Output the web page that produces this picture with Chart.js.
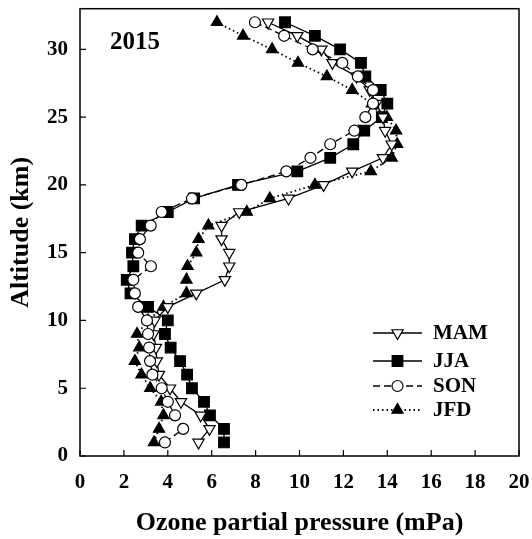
<!DOCTYPE html>
<html>
<head>
<meta charset="utf-8">
<script src="https://cdn.jsdelivr.net/npm/chart.js@4/dist/chart.umd.min.js"></script>
<style>html,body{margin:0;padding:0;background:#fff}</style>
</head>
<body>
<canvas id="chart" width="532" height="539"></canvas>
<script>
// === Data ===

const altitudes = [1, 2, 3, 4, 5, 6, 7, 8, 9, 10, 11, 12, 13, 14, 15, 16,
	17, 18, 19, 20, 21, 22, 23, 24, 25, 26, 27, 28, 29, 30, 31, 32];

const mam = [5.4, 5.9, 5.5, 4.6, 4.1, 3.6, 3.5, 3.46, 3.35, 3.4, 4.0, 5.3,
	6.6, 6.8, 6.8, 6.45, 6.45, 7.25, 9.5, 11.1, 12.4, 13.8, 14.2, 13.9,
	13.8, 13.5, 13.2, 12.6, 11.5, 11.0, 9.9, 8.57];

const jja = [6.56, 6.56, 5.92, 5.65, 5.1, 4.88, 4.56, 4.13, 3.87, 4.0, 3.1, 2.3,
	2.13, 2.43, 2.37, 2.5, 2.81, 4.0, 5.2, 7.2, 9.9, 11.4, 12.45, 12.95,
	13.75, 14.0, 13.7, 13.0, 12.8, 11.85, 10.7, 9.34];

const son = [3.87, 4.7, 4.33, 4.0, 3.72, 3.3, 3.19, 3.15, 3.1, 3.05, 2.65, 2.5,
	2.43, 3.23, 2.65, 2.73, 3.22, 3.72, 5.1, 7.35, 9.4, 10.5, 11.4, 12.5,
	13.0, 13.35, 13.35, 12.66, 11.95, 10.6, 9.3, 7.97];

const jfd = [3.37, 3.6, 3.8, 3.7, 3.2, 2.8, 2.5, 2.7, 2.6, 3.1, 3.8, 4.85,
	4.85, 4.9, 5.3, 5.4, 5.85, 7.6, 8.65, 10.7, 13.25, 14.2, 14.45, 14.4,
	13.98, 13.3, 12.4, 11.25, 9.93, 8.75, 7.43, 6.24];

const xTicks = [0, 2, 4, 6, 8, 10, 12, 14, 16, 18, 20];
const yTicks = [0, 5, 10, 15, 20, 25, 30];

const FONT = '"Liberation Serif", "Times New Roman", serif';


// === Helpers ===

function toPoints(values) {
	return altitudes.map((alt, i) => ({ x: values[i], y: alt }));
}

function makeDataset(label, values, style) {
	return Object.assign({
		label: label,
		data: toPoints(values),
		showLine: true,
		borderColor: '#000',
		borderWidth: 1.3,
		pointBorderColor: '#000',
		pointBorderWidth: 1.2
	}, style);
}


// === Plugins ===

const frameAndTicks = {
	id: 'frameAndTicks',
	afterDraw(chart) {
		const ctx = chart.ctx;
		const a = chart.chartArea;
		const xs = chart.scales.x;
		const ys = chart.scales.y;
		ctx.save();
		ctx.strokeStyle = '#000';
		ctx.lineWidth = 1.5;
		ctx.strokeRect(a.left, a.top, a.right - a.left, a.bottom - a.top);
		ctx.lineWidth = 1.2;
		ctx.beginPath();
		xTicks.forEach(v => {
			const px = xs.getPixelForValue(v);
			ctx.moveTo(px, a.bottom);
			ctx.lineTo(px, a.bottom - 6);
		});
		yTicks.forEach(v => {
			const py = ys.getPixelForValue(v);
			ctx.moveTo(a.left, py);
			ctx.lineTo(a.left + 6, py);
		});
		ctx.stroke();

		// year label
		ctx.fillStyle = '#000';
		ctx.font = 'bold 25px ' + FONT;
		ctx.textAlign = 'center';
		ctx.textBaseline = 'middle';
		ctx.fillText('2015', xs.getPixelForValue(2.5), ys.getPixelForValue(30.5));

		// legend inside the plot
		const rowY = [333, 361, 386, 410];
		const x0 = 373, x1 = 422;
		chart.data.datasets.forEach((ds, i) => {
			const y = rowY[i];
			ctx.save();
			ctx.strokeStyle = '#000';
			ctx.lineWidth = ds.borderWidth;
			ctx.setLineDash(ds.borderDash || []);
			ctx.beginPath();
			ctx.moveTo(x0, y);
			ctx.lineTo(x1, y);
			ctx.stroke();
			ctx.restore();
			ctx.save();
			ctx.fillStyle = ds.pointBackgroundColor;
			ctx.strokeStyle = '#000';
			ctx.lineWidth = 1.2;
			Chart.helpers.drawPoint(ctx, {
				pointStyle: ds.pointStyle,
				rotation: ds.pointRotation || 0,
				radius: ds.pointRadius,
				borderWidth: 1.2
			}, (x0 + x1) / 2, y);
			ctx.restore();
			ctx.fillStyle = '#000';
			ctx.font = 'bold 21px ' + FONT;
			ctx.textAlign = 'left';
			ctx.textBaseline = 'middle';
			ctx.fillText(ds.label, 433, y + 1);
		});
		ctx.restore();
	}
};


// === Chart ===

const datasets = [
	makeDataset('MAM', mam, {
		pointStyle: 'triangle', pointRotation: 180, pointRadius: 6.5,
		pointBackgroundColor: '#fff', order: 1
	}),
	makeDataset('JJA', jja, {
		pointStyle: 'rect', pointRadius: 7.5,
		pointBackgroundColor: '#000', order: 3
	}),
	makeDataset('SON', son, {
		pointStyle: 'circle', pointRadius: 5.5, borderDash: [7, 4],
		pointBackgroundColor: '#fff', order: 0
	}),
	makeDataset('JFD', jfd, {
		pointStyle: 'triangle', pointRadius: 6.5, borderDash: [1.5, 3],
		borderWidth: 1.8, pointBackgroundColor: '#000', order: 2
	})
];

new Chart(document.getElementById('chart'), {
	type: 'scatter',
	data: { datasets: datasets },
	options: {
		responsive: false,
		animation: false,
		layout: { padding: { left: 0, right: 13, top: 7, bottom: 0 } },
		plugins: { legend: { display: false }, tooltip: { enabled: false } },
		scales: {
			x: {
				type: 'linear', min: 0, max: 20,
				afterBuildTicks: s => { s.ticks = xTicks.map(v => ({ value: v })); },
				afterFit: s => { s.height = 83; s.paddingLeft = 0; s.paddingRight = 0; },
				grid: { display: false, drawTicks: false },
				border: { display: false },
				ticks: { color: '#000', padding: 14, maxRotation: 0,
					font: { family: FONT, size: 21, weight: 'bold' } },
				title: { display: true, text: 'Ozone partial pressure (mPa)', color: '#000',
					padding: { top: 0, bottom: 0 },
					font: { family: FONT, size: 26, weight: 'bold' } }
			},
			y: {
				type: 'linear', min: 0, max: 33,
				afterBuildTicks: s => { s.ticks = yTicks.map(v => ({ value: v })); },
				afterFit: s => { s.width = 80; s.paddingTop = 0; s.paddingBottom = 0; },
				grid: { display: false, drawTicks: false },
				border: { display: false },
				ticks: { color: '#000', padding: 12,
					font: { family: FONT, size: 21, weight: 'bold' } },
				title: { display: true, text: 'Altitude (km)', color: '#000',
					padding: { top: 6, bottom: 0 },
					font: { family: FONT, size: 26, weight: 'bold' } }
			}
		}
	},
	plugins: [frameAndTicks]
});
</script>
</body>
</html>
